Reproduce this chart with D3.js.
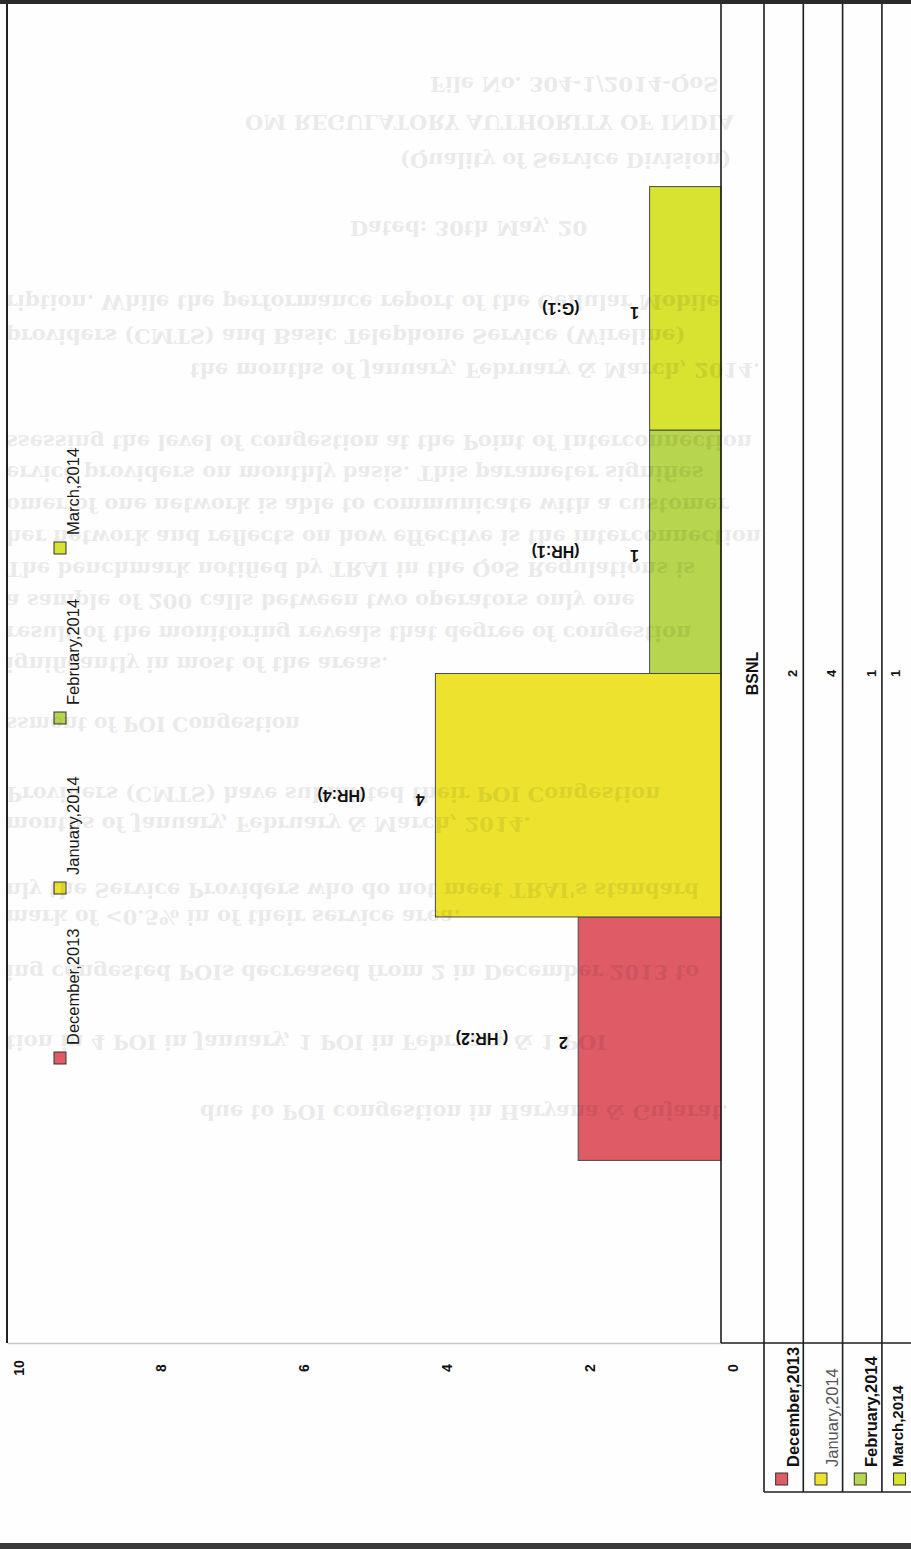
<!DOCTYPE html>
<html>
<head>
<meta charset="utf-8">
<script src="https://cdn.jsdelivr.net/npm/d3@7"></script>
<style>
  html, body { margin: 0; padding: 0; background: #fff; }
  svg { display: block; font-family: "Liberation Sans", Arial, sans-serif; }
</style>
</head>
<body>
<div class="chart"></div>
<script>
// Chart data
var categories = ["BSNL"];
var seriesNames = ["December,2013", "January,2014", "February,2014", "March,2014"];
var seriesValues = [2, 4, 1, 1];
var seriesNotes = ["( HR:2)", "(HR:4)", "(HR:1)", "(G:1)"];
var seriesColors = ["#df5b66", "#ede32e", "#b7d64f", "#d7e231"];
var valueTicks = [0, 2, 4, 6, 8, 10];

// Text showing through from the back of the sheet (decoration only)
// [left, widest allowed right edge, baseline y, text]
var bleedLines = [
  [430, 840, 84, "File No. 304-1/2014-QoS"],
  [245, 840, 122, "OM REGULATORY AUTHORITY OF INDIA"],
  [400, 860, 160, "(Quality of Service Division)"],
  [350, 905, 228, "Dated:   30th May, 20"],
  [6, 905, 302, "ription. While the performance report of the Cellular Mobile"],
  [6, 905, 336, "providers (CMTS) and Basic Telephone Service (Wireline)"],
  [190, 835, 370, "the months of January, February & March, 2014."],
  [6, 905, 442, "ssessing the level of congestion at the Point of Interconnection"],
  [6, 905, 473, "ervice providers on monthly basis. This parameter signifies"],
  [6, 905, 505, "omer of one network is able to communicate with a customer"],
  [6, 905, 537, "her network and reflects on how effective is the interconnection"],
  [6, 905, 569, "The benchmark notified by TRAI in the QoS Regulations is"],
  [6, 905, 601, "a sample of 200 calls between two operators only one"],
  [6, 905, 633, "result of the monitoring reveals that degree of congestion"],
  [6, 520, 664, "ignificantly in most of the areas."],
  [6, 300, 724, "ssment of POI Congestion"],
  [6, 905, 794, "Providers (CMTS) have submitted their POI Congestion"],
  [6, 720, 824, "months of January, February & March, 2014."],
  [6, 905, 890, "nly the Service Providers who do not meet TRAI's standard"],
  [6, 700, 917, "mark of <0.5% in  of their service area."],
  [6, 905, 972, "ing congested POIs decreased from 2 in December 2013 to"],
  [6, 905, 1042, "tion in 4 POI in January,  1 POI in February &  1 POI"],
  [200, 740, 1112, "due to POI congestion in Haryana & Gujarat."]
];

var svgWidth = 911;
var svgHeight = 1549;

var svg = d3.select(".chart")
  .append("svg")
  .attr("width", svgWidth)
  .attr("height", svgHeight);

svg.append("rect")
  .attr("width", svgWidth)
  .attr("height", svgHeight)
  .attr("fill", "#fefefe");

// plot geometry (page is rotated: values grow to the left, categories run down)
var plotLeft = 7, plotTop = 4, plotRight = 721, plotBottom = 1343;

var xScale = d3.scaleLinear().domain([0, 10]).range([plotRight, plotLeft]);

// Excel gap width 150% -> outer padding 0.75 bar on each side of 4 bars
var catScale = d3.scaleBand()
  .domain(categories)
  .range([plotTop, plotBottom])
  .paddingInner(0)
  .paddingOuter(0.75 / seriesNames.length);

var seriesScale = d3.scaleBand()
  .domain(seriesNames)
  .range([catScale.bandwidth(), 0]);

var bars = seriesNames.map(function(name, i) {
  return { name: name, value: seriesValues[i], note: seriesNotes[i], color: seriesColors[i] };
});

var chart = svg.append("g");

// bars
chart.selectAll("rect.bar")
  .data(bars)
  .enter()
  .append("rect")
  .attr("class", "bar")
  .attr("x", function(d) { return xScale(d.value); })
  .attr("width", function(d) { return xScale(0) - xScale(d.value); })
  .attr("y", function(d) { return catScale("BSNL") + seriesScale(d.name); })
  .attr("height", seriesScale.bandwidth())
  .attr("fill", function(d) { return d.color; })
  .attr("stroke", "#4a4a4a")
  .attr("stroke-width", 1);

function barMid(d) {
  return catScale("BSNL") + seriesScale(d.name) + seriesScale.bandwidth() / 2;
}

// value labels (upside down on the scan)
chart.selectAll("text.val")
  .data(bars)
  .enter()
  .append("text")
  .attr("class", "val")
  .attr("transform", function(d) {
    return "translate(" + (xScale(d.value) - 15) + "," + (barMid(d) + 4) + ") rotate(180)";
  })
  .attr("text-anchor", "middle")
  .attr("dominant-baseline", "central")
  .style("font-size", "16px")
  .style("font-weight", "bold")
  .style("fill", "#111")
  .text(function(d) { return d.value; });

// hand typed notes beside each bar
chart.selectAll("text.note")
  .data(bars)
  .enter()
  .append("text")
  .attr("class", "note")
  .attr("transform", function(d) {
    return "translate(" + (xScale(d.value) - 70) + "," + barMid(d) + ") rotate(180)";
  })
  .attr("text-anchor", "start")
  .attr("dominant-baseline", "central")
  .style("font-size", "16px")
  .style("font-weight", "bold")
  .style("fill", "#111")
  .text(function(d) { return d.note; });

// value axis along the bottom of the plot
var valueAxis = d3.axisBottom(xScale).tickValues(valueTicks).tickSize(0).tickFormat(d3.format("d"));
var axisG = chart.append("g")
  .attr("transform", "translate(0," + plotBottom + ")")
  .call(valueAxis);
axisG.select(".domain").attr("stroke", "#c8c8c8").attr("stroke-width", 1.5);
axisG.selectAll(".tick text")
  .attr("y", 0)
  .attr("dy", null)
  .attr("transform", "translate(11,25) rotate(-90)")
  .attr("text-anchor", "middle")
  .attr("dominant-baseline", "central")
  .style("font-size", "14px")
  .style("font-weight", "bold")
  .style("font-family", "'Liberation Sans', Arial, sans-serif")
  .style("fill", "#111");

// plot border (left side = top of the original chart)
chart.append("line")
  .attr("x1", plotLeft).attr("x2", plotLeft)
  .attr("y1", 0).attr("y2", plotBottom)
  .attr("stroke", "#222").attr("stroke-width", 2);

// data table on the right
var headW = 43;
var tableBottom = 1492;
var rowScale = d3.scaleBand()
  .domain(seriesNames)
  .range([plotRight + headW, plotRight + headW + 39.3 * seriesNames.length]);

var table = svg.append("g");
var lineColor = "#1e1e1e";

table.append("line")
  .attr("x1", plotRight).attr("x2", plotRight)
  .attr("y1", 0).attr("y2", plotBottom)
  .attr("stroke", lineColor).attr("stroke-width", 1.6);

var bounds = seriesNames.map(function(n) { return rowScale(n); });
bounds.push(rowScale.range()[1]);
table.selectAll("line.col")
  .data(bounds)
  .enter()
  .append("line")
  .attr("class", "col")
  .attr("x1", function(d) { return d; }).attr("x2", function(d) { return d; })
  .attr("y1", 0).attr("y2", tableBottom)
  .attr("stroke", lineColor).attr("stroke-width", 1.6);

table.append("line")
  .attr("x1", plotRight).attr("x2", svgWidth)
  .attr("y1", plotBottom).attr("y2", plotBottom)
  .attr("stroke", lineColor).attr("stroke-width", 1.6);

table.append("line")
  .attr("x1", rowScale(seriesNames[0])).attr("x2", svgWidth)
  .attr("y1", tableBottom).attr("y2", tableBottom)
  .attr("stroke", lineColor).attr("stroke-width", 1.6);

var catMid = catScale("BSNL") + catScale.bandwidth() / 2;

table.append("text")
  .attr("transform", "translate(" + (plotRight + headW / 2 + 10) + "," + catMid + ") rotate(-90)")
  .attr("text-anchor", "middle")
  .attr("dominant-baseline", "central")
  .style("font-size", "16px")
  .style("font-weight", "bold")
  .style("fill", "#111")
  .text(categories[0]);

// the last column runs off the page edge on the scan, so keep its text inside
var lastShift = -6;

table.selectAll("text.cell")
  .data(bars)
  .enter()
  .append("text")
  .attr("class", "cell")
  .attr("transform", function(d, i) {
    var shift = i === bars.length - 1 ? lastShift : 9;
    return "translate(" + (rowScale(d.name) + rowScale.bandwidth() / 2 + shift) + "," + catMid + ") rotate(-90)";
  })
  .attr("text-anchor", "middle")
  .attr("dominant-baseline", "central")
  .style("font-size", "13px")
  .style("font-weight", "bold")
  .style("fill", "#111")
  .text(function(d) { return d.value; });

// row headers with legend keys
var rowHead = table.selectAll("g.rowhead")
  .data(bars)
  .enter()
  .append("g")
  .attr("class", "rowhead")
  .attr("transform", function(d) {
    return "translate(" + (rowScale(d.name) + rowScale.bandwidth() / 2) + ",0)";
  });

rowHead.append("rect")
  .attr("x", -8).attr("y", 1473)
  .attr("width", 12).attr("height", 12)
  .attr("fill", function(d) { return d.color; })
  .attr("stroke", "#333").attr("stroke-width", 1);

rowHead.append("text")
  .attr("transform", function(d, i) {
    return "translate(" + (i === bars.length - 1 ? lastShift + 2 : 9) + ",1467) rotate(-90)";
  })
  .attr("text-anchor", "start")
  .attr("dominant-baseline", "central")
  .style("font-size", function(d, i) { return i === bars.length - 1 ? "15px" : "16.5px"; })
  .style("font-weight", function(d, i) { return i === 1 ? "normal" : "bold"; })
  .style("fill", function(d, i) { return i === 1 ? "#555" : "#111"; })
  .text(function(d) { return d.name; });

// legend on the left (top of the original chart)
var legendScale = d3.scalePoint().domain(seriesNames).range([1065, 555]);
var legend = svg.selectAll("g.legend")
  .data(bars)
  .enter()
  .append("g")
  .attr("class", "legend")
  .attr("transform", function(d) { return "translate(54," + legendScale(d.name) + ")"; });

legend.append("rect")
  .attr("x", 0).attr("y", -13)
  .attr("width", 12).attr("height", 12)
  .attr("fill", function(d) { return d.color; })
  .attr("stroke", "#333").attr("stroke-width", 1);

legend.append("text")
  .attr("transform", "translate(19,-20) rotate(-90)")
  .attr("text-anchor", "start")
  .attr("dominant-baseline", "central")
  .style("font-size", "16.5px")
  .style("fill", "#1a1a1a")
  .text(function(d) { return d.name; });

// show-through text from the reverse side of the sheet (flipped upside down)
var bleed = svg.append("g")
  .style("pointer-events", "none")
  .selectAll("text")
  .data(bleedLines)
  .enter()
  .append("text")
  .attr("transform", function(d) { return "translate(" + d[0] + "," + d[2] + ") scale(1,-1)"; })
  .attr("dominant-baseline", "central")
  .style("font-family", "'DejaVu Serif', serif")
  .style("font-weight", "bold")
  .style("font-size", "21px")
  .style("fill", "#000")
  .style("opacity", 0.075)
  .text(function(d) { return d[3]; });

// only squeeze lines that would run past their right edge
bleed.each(function(d) {
  var room = d[1] - d[0];
  if (this.getComputedTextLength() > room) {
    d3.select(this).attr("textLength", room).attr("lengthAdjust", "spacingAndGlyphs");
  }
});

// scanner edges
svg.append("rect")
  .attr("x", 0).attr("y", 0)
  .attr("width", svgWidth).attr("height", 4)
  .attr("fill", "#2b2b2b");
svg.append("rect")
  .attr("x", 0).attr("y", svgHeight - 6)
  .attr("width", svgWidth).attr("height", 6)
  .attr("fill", "#3a3a3a");
</script>
</body>
</html>
